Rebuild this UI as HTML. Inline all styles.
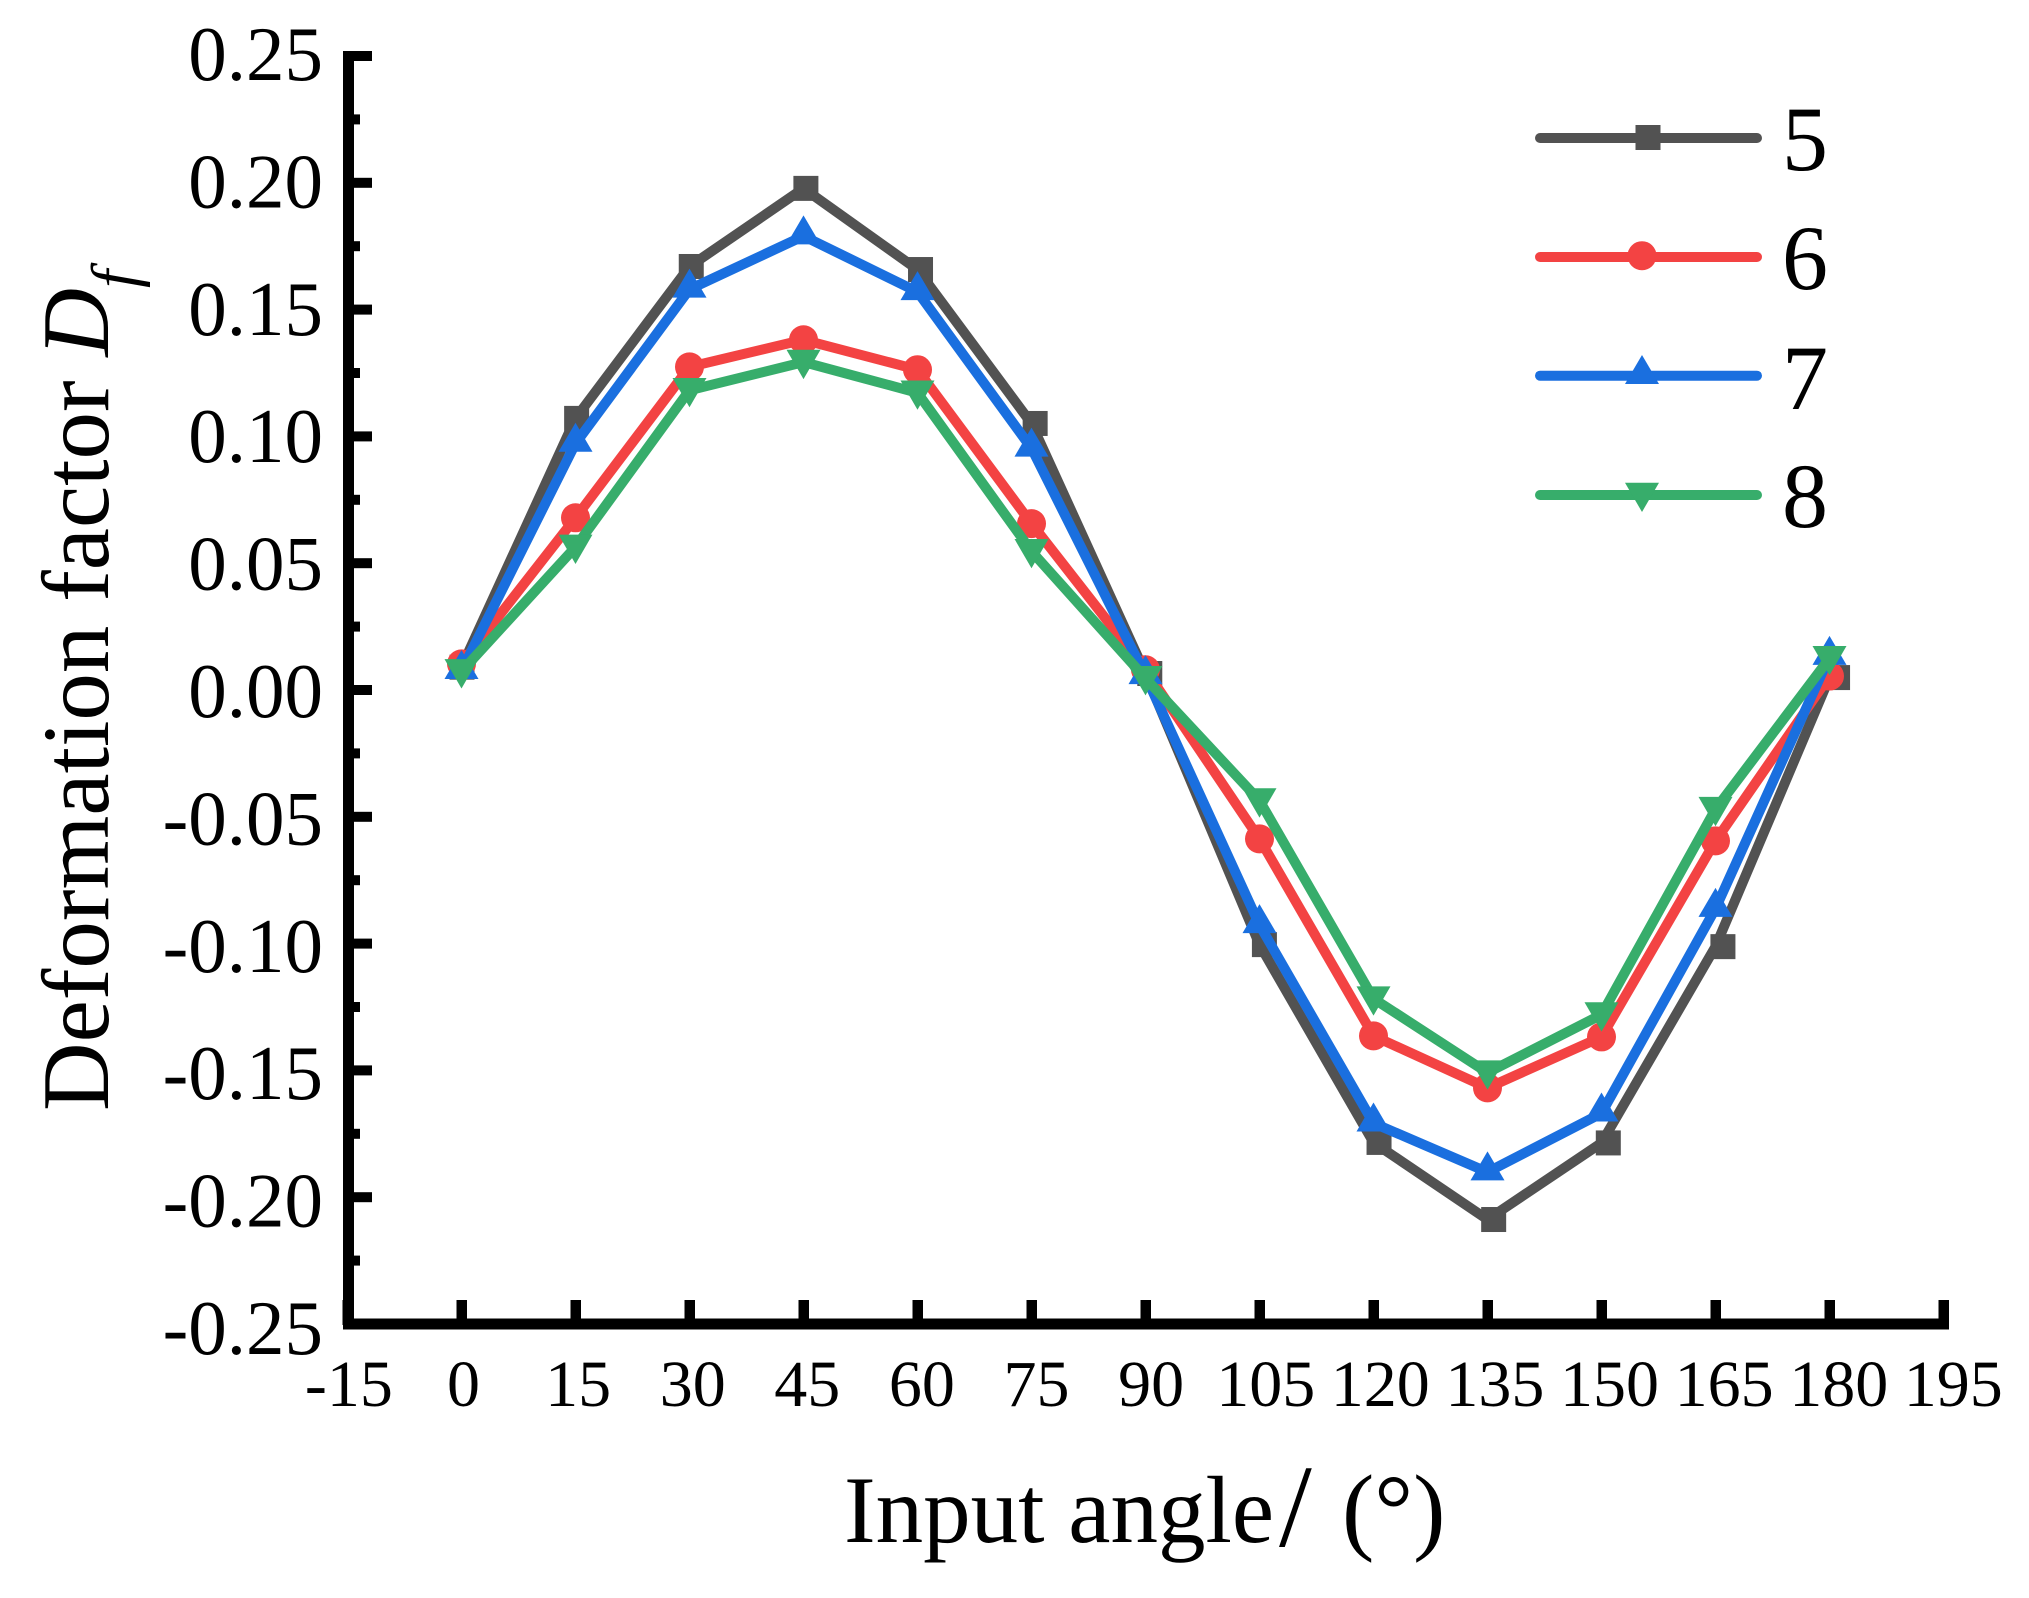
<!DOCTYPE html>
<html>
<head>
<meta charset="utf-8">
<title>Deformation factor chart</title>
<style>
  html, body { margin: 0; padding: 0; background: #fff; }
  svg { display: block; }
  text { font-family: "Liberation Serif", serif; fill: #000; }
</style>
</head>
<body>
<svg id="chart" xmlns="http://www.w3.org/2000/svg" width="2029" height="1598" viewBox="0 0 2029 1598">
  <rect x="0" y="0" width="2029" height="1598" fill="#fff"/>
  <g id="axes"></g>
  <g id="series"></g>
  <g id="legend"></g>
  <text x="844" y="1542" font-size="95">Input angle<tspan x="1279" y="1546" font-size="118">/</tspan><tspan x="1342" y="1542" font-size="97">(°)</tspan></text>
  <text transform="translate(108,1111) rotate(-90)" font-size="95">Deformation factor <tspan font-style="italic">D</tspan><tspan font-style="italic" font-size="65" dy="28">f</tspan></text>
</svg>
<script>
var angles = [0, 15, 30, 45, 60, 75, 90, 105, 120, 135, 150, 165, 180];
var seriesNames = ['5', '6', '7', '8'];
var values5 = [0.009, 0.1071, 0.167, 0.1978, 0.1658, 0.1051, 0.0065, -0.1004, -0.1784, -0.2088, -0.1786, -0.1012, 0.0049];
var values6 = [0.0103, 0.0679, 0.1274, 0.1381, 0.1263, 0.0656, 0.008, -0.0587, -0.1364, -0.1569, -0.1368, -0.0595, 0.0055];
var values7 = [0.0076, 0.0972, 0.158, 0.179, 0.157, 0.0953, 0.0056, -0.0926, -0.1708, -0.1901, -0.1669, -0.0862, 0.0132];
var values8 = [0.0073, 0.0564, 0.1182, 0.1293, 0.1172, 0.0547, 0.0046, -0.0436, -0.1217, -0.1509, -0.128, -0.047, 0.0125];
var xTickValues = [-15, 0, 15, 30, 45, 60, 75, 90, 105, 120, 135, 150, 165, 180, 195];
var yTickValues = [0.25, 0.2, 0.15, 0.1, 0.05, 0, -0.05, -0.1, -0.15, -0.2, -0.25];
var yTickLabels = ['0.25', '0.20', '0.15', '0.10', '0.05', '0.00', '-0.05', '-0.10', '-0.15', '-0.20', '-0.25'];
var yMinorValues = [0.225, 0.175, 0.125, 0.075, 0.025, -0.025, -0.075, -0.125, -0.175, -0.225];

var NS = 'http://www.w3.org/2000/svg';
var colors = ['#525252', '#F34343', '#1A6FDF', '#37AD6B'];
var kinds = ['square', 'circle', 'up', 'down'];
var allValues = [values5, values6, values7, values8];

function xPos(v) { return 461.5 + 7.6 * v; }
function yPos(v) { return 56 + (0.25 - v) * 2536; }

function el(tag, attrs, parent) {
  var n = document.createElementNS(NS, tag);
  for (var k in attrs) n.setAttribute(k, attrs[k]);
  parent.appendChild(n);
  return n;
}

function drawMarker(kind, x, y, color, parent, name) {
  var m;
  if (kind === 'square') {
    m = el('rect', { x: x - 12.5, y: y - 12.5, width: 25, height: 25, fill: color }, parent);
  } else if (kind === 'circle') {
    m = el('circle', { cx: x, cy: y, r: 14.5, fill: color }, parent);
  } else if (kind === 'up') {
    m = el('polygon', { points: x + ',' + (y - 20.7) + ' ' + (x + 17) + ',' + (y + 8.3) + ' ' + (x - 17) + ',' + (y + 8.3), fill: color }, parent);
  } else {
    m = el('polygon', { points: x + ',' + (y + 17) + ' ' + (x + 17) + ',' + (y - 12.3) + ' ' + (x - 17) + ',' + (y - 12.3), fill: color }, parent);
  }
  
  
  return m;
}

var axes = document.getElementById('axes');
var left = xPos(-15) + 1;
var right = xPos(195);
var top_ = yPos(0.25);
var bottom = yPos(-0.25);

var yAxisLine = el('rect', { x: left - 5.5, y: top_ - 5, width: 11, height: bottom - top_ + 10.5, fill: '#000' }, axes);



var xAxisLine = el('rect', { x: left - 5.5, y: bottom - 5.5, width: right + 5.5 - left + 5.5, height: 11, fill: '#000' }, axes);



yTickValues.forEach(function (v, i) {
  var t = el('rect', { x: left - 5.5, y: yPos(v) - 5, width: 29, height: 10, fill: '#000' }, axes);
  
  
  var lab = el('text', { x: 323, y: yPos(v) + 24 + i * 0.6, 'font-size': 77, 'text-anchor': 'end' }, axes);
  lab.textContent = yTickLabels[i];
  
  
});

yMinorValues.forEach(function (v) {
  var t = el('rect', { x: left - 5.5, y: yPos(v) - 5, width: 17, height: 10, fill: '#000' }, axes);
  
  
});

xTickValues.forEach(function (v) {
  var t = el('rect', { x: xPos(v) - 5, y: 1300, width: 10.5, height: 25, fill: '#000' }, axes);
  
  
  var lab = el('text', { x: xPos(v) + 2 + v * 0.04, y: 1406, 'font-size': 66, 'text-anchor': 'middle' }, axes);
  lab.textContent = String(v);
  
  
});

var seriesGroup = document.getElementById('series');
allValues.forEach(function (vals, s) {
  var g = el('g', {}, seriesGroup);
  
  
  var pts = vals.map(function (v, i) { return xPos(angles[i]) + ',' + yPos(v); }).join(' ');
  var line = el('polyline', { points: pts, fill: 'none', stroke: colors[s], 'stroke-width': 10, 'stroke-linejoin': 'round', 'stroke-linecap': 'round' }, g);
  
  
  vals.forEach(function (v, i) {
    var drift = kinds[s] === 'square' ? 0.5 + angles[i] * 0.042 : 0;
    drawMarker(kinds[s], xPos(angles[i]) + drift, yPos(v), colors[s], g, 'series-marker-' + seriesNames[s]);
  });
});

var legendRows = [138, 257, 375.7, 495];
var legendLabelY = [170, 289, 409, 527];
var legendMarkerX = [1648, 1642, 1642, 1642];
var legendMarkerY = [137.5, 255.7, 375.7, 495];
var legend = document.getElementById('legend');
seriesNames.forEach(function (nm, s) {
  var g = el('g', {}, legend);
  
  
  var l = el('line', { x1: 1540, x2: 1757, y1: legendRows[s], y2: legendRows[s], stroke: colors[s], 'stroke-width': 10, 'stroke-linecap': 'round' }, g);
  
  
  drawMarker(kinds[s], legendMarkerX[s], legendMarkerY[s], colors[s], g, 'legend-marker-' + nm);
  var t = el('text', { x: 1782, y: legendLabelY[s], 'font-size': 92 }, g);
  t.textContent = nm;
  
  
});
</script>
</body>
</html>
